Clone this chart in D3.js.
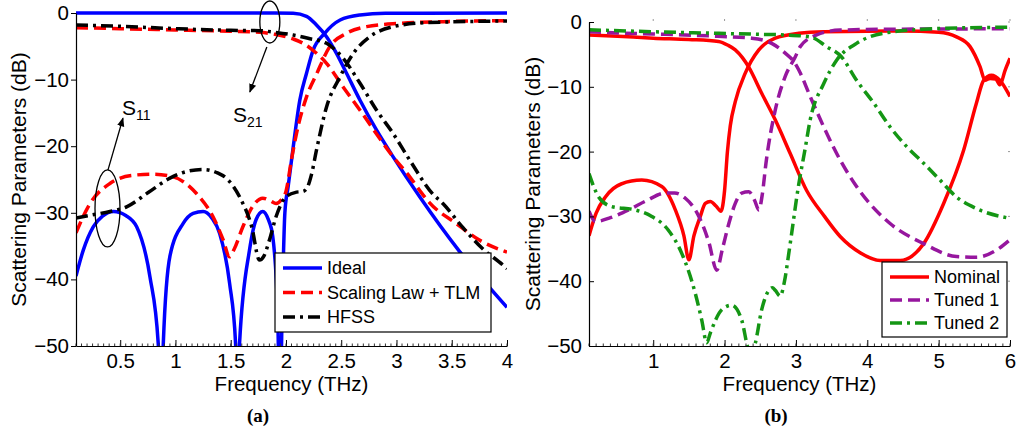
<!DOCTYPE html>
<html>
<head>
<meta charset="utf-8">
<script src="https://cdn.jsdelivr.net/npm/d3@7"></script>
<style>
  body { margin: 0; background: #fff; }
  svg { display: block; }
</style>
</head>
<body>
<script>
// ---- panel (a): [frequency THz, dB] ----
const idealS21 = [[0.1,0],[1.9,0],[2.065,-0.05],[2.186,-0.5],[2.276,-1.8],[2.367,-3.55],[2.457,-6.05],[2.548,-9.05],[2.67,-13.1],[2.82,-17.6],[2.97,-21.6],[3.21,-27.6],[3.57,-35.8],[4.0,-44.2]];
const idealS11 = [[0.1,-39.5],[0.166,-35.6],[0.256,-32.1],[0.34,-30.5],[0.44,-29.8],[0.55,-30.4],[0.649,-32.1],[0.769,-39.6],[0.844,-49.6],[0.866,-62],[0.89,-49.6],[0.95,-36.5],[1.07,-31.6],[1.16,-30.1],[1.25,-29.8],[1.33,-30.8],[1.40,-33.1],[1.49,-40.6],[1.544,-49.6],[1.56,-62],[1.58,-49.6],[1.67,-35.6],[1.73,-31],[1.79,-29.8],[1.84,-31],[1.88,-33.5],[1.925,-45],[1.945,-62],[1.965,-45],[1.99,-30],[2.02,-26],[2.065,-20.2],[2.125,-13.1],[2.186,-9.05],[2.245,-5.6],[2.35,-3.05],[2.49,-1.05],[2.67,-0.3],[2.9,-0.05],[4.0,0]];
const tlmS21 = [[0.1,-2.2],[0.5,-2.35],[1.0,-2.55],[1.5,-2.75],[1.76,-2.9],[1.9,-3.2],[2.065,-3.9],[2.16,-4.6],[2.245,-5.6],[2.367,-7.55],[2.517,-11.1],[2.67,-14.6],[2.97,-21.6],[3.12,-24.6],[3.24,-27.3],[3.3,-28.5],[3.54,-31.6],[3.75,-34.1],[4.0,-35.9]];
const tlmS11 = [[0.1,-33],[0.227,-28.6],[0.407,-25.6],[0.6,-24.4],[0.8,-24.2],[0.98,-24.6],[1.19,-27.1],[1.34,-30.6],[1.43,-34],[1.49,-36.6],[1.53,-35.5],[1.61,-32.1],[1.7,-29],[1.79,-27.8],[1.86,-28.2],[1.91,-28.6],[1.96,-28],[2.0,-26.8],[2.05,-22],[2.095,-18.1],[2.186,-12.6],[2.28,-9.05],[2.396,-5.05],[2.548,-3.05],[2.73,-2.05],[3.03,-1.55],[3.42,-1.3],[4.0,-1.15]];
const hfssS21 = [[0.1,-1.8],[0.5,-2.0],[1.0,-2.35],[1.5,-2.6],[1.76,-2.65],[1.9,-2.9],[2.065,-3.3],[2.2,-3.8],[2.367,-4.55],[2.517,-6.8],[2.67,-10.55],[2.82,-14.6],[2.97,-18.1],[3.12,-22.1],[3.33,-27.2],[3.42,-28.6],[3.6,-32.2],[3.78,-35.4],[3.96,-37.8],[4.0,-38.4]];
const hfssS11 = [[0.1,-30.8],[0.25,-30.3],[0.407,-29.8],[0.558,-29.1],[0.75,-27],[0.95,-24.8],[1.1,-23.8],[1.25,-23.5],[1.38,-24],[1.46,-24.8],[1.58,-27.6],[1.69,-32.1],[1.76,-37.1],[1.8,-36.5],[1.85,-34.1],[1.91,-30.6],[2.0,-27.6],[2.095,-26.9],[2.15,-26.8],[2.186,-26.4],[2.23,-24.3],[2.276,-20.6],[2.367,-14.1],[2.49,-9.56],[2.61,-6.05],[2.76,-3.55],[2.97,-2.05],[3.27,-1.45],[4.0,-1.2]];

// ---- panel (b) ----
const nominalS21 = [[0.1,-2.0],[0.5,-2.2],[1.0,-2.5],[1.5,-2.7],[1.915,-3.0],[2.05,-3.6],[2.15,-4.3],[2.25,-5.5],[2.335,-6.9],[2.52,-11.0],[2.71,-15.1],[2.92,-20.3],[3.15,-26],[3.4,-30],[3.62,-33.1],[3.9,-35.6],[4.18,-36.8],[4.46,-36.8],[4.79,-34.2],[5.07,-28],[5.35,-19.8],[5.53,-12.5],[5.63,-9.0],[5.74,-8.2],[5.86,-9.0],[6.0,-11.5]];
const nominalS11 = [[0.1,-33],[0.2,-29.5],[0.33,-27],[0.55,-25],[0.84,-24.4],[1.12,-25.4],[1.31,-29],[1.43,-33],[1.5,-36.7],[1.57,-33],[1.66,-30],[1.73,-28],[1.8,-27.7],[1.88,-28.4],[1.95,-29.2],[2.0,-26],[2.04,-20],[2.08,-16],[2.15,-12.3],[2.29,-7.9],[2.48,-4.3],[2.71,-2.5],[3.04,-1.75],[3.39,-1.5],[4.5,-1.4],[5.0,-1.6],[5.25,-2.3],[5.44,-3.8],[5.58,-6.9],[5.65,-9.0],[5.72,-8.7],[5.8,-8.8],[5.86,-9.7],[5.93,-7.5],[6.0,-5.6]];
const tuned1S21 = [[0.1,-1.5],[0.5,-1.7],[1.0,-1.85],[1.45,-2.0],[1.9,-2.2],[2.38,-2.5],[2.66,-3.3],[2.85,-4.8],[2.97,-6.1],[3.04,-7.4],[3.2,-11.5],[3.39,-16.2],[3.62,-21.3],[3.85,-25.4],[4.32,-31.1],[4.79,-34.2],[5.25,-36.2],[5.53,-36.3],[5.81,-35.2],[6.0,-33.6]];
const tuned1S11 = [[0.1,-29.2],[0.19,-30.8],[0.4,-30.2],[0.655,-29],[0.9,-27.6],[1.17,-26.4],[1.3,-26.4],[1.45,-27.2],[1.64,-30],[1.78,-34],[1.89,-38.3],[1.97,-35],[2.06,-31.1],[2.15,-28],[2.24,-26.4],[2.34,-26.2],[2.42,-27.5],[2.48,-29],[2.53,-26.5],[2.58,-21.8],[2.71,-13.6],[2.85,-8.4],[2.99,-5.4],[3.06,-3.8],[3.29,-2.0],[3.62,-1.25],[4.5,-1.1],[6.0,-1.05]];
const tuned2S21 = [[0.1,-1.2],[1.0,-1.5],[1.915,-1.75],[2.5,-1.9],[2.85,-2.0],[3.2,-2.3],[3.43,-3.8],[3.64,-5.4],[3.85,-9.0],[4.09,-12.5],[4.32,-16.2],[4.55,-19.2],[4.79,-21.8],[5.02,-24.4],[5.25,-27],[5.53,-28.8],[6.0,-30.3]];
const tuned2S11 = [[0.1,-23.4],[0.17,-25.5],[0.235,-27],[0.42,-28.5],[0.75,-29],[0.98,-30],[1.21,-32.1],[1.4,-35.7],[1.59,-41.9],[1.68,-46],[1.75,-49.5],[1.8,-48],[1.96,-44.4],[2.1,-43.7],[2.24,-46],[2.32,-50],[2.37,-51.5],[2.43,-49.6],[2.52,-44.4],[2.62,-41.4],[2.67,-41],[2.71,-41.4],[2.78,-42.3],[2.84,-40],[2.9,-35.7],[3.04,-25],[3.13,-19.5],[3.2,-15.1],[3.39,-9.5],[3.57,-5.9],[3.85,-3.3],[4.22,-1.75],[5.02,-1.0],[6.0,-0.8]];

const xTicksA = [0.5, 1, 1.5, 2, 2.5, 3, 3.5, 4];
const xTicksB = [1, 2, 3, 4, 5, 6];
const yTicks = [-50, -40, -30, -20, -10, 0];
const legendA = ['Ideal', 'Scaling Law + TLM', 'HFSS'];
const legendB = ['Nominal', 'Tuned 1', 'Tuned 2'];

const width = 1016;
const height = 436;
const font = '"Liberation Sans", Arial, Helvetica, sans-serif';

const dash = '12,6';
const dashDot = '12,5,3,5';

const svg = d3.select('body')
  .append('svg')
  .attr('width', width)
  .attr('height', height)
  .style('font-family', font);

svg.append('defs').append('marker')
  .attr('id', 'arrow')
  .attr('viewBox', '0 0 10 10')
  .attr('refX', 9).attr('refY', 5)
  .attr('markerWidth', 9).attr('markerHeight', 9)
  .attr('markerUnits', 'userSpaceOnUse')
  .attr('orient', 'auto')
  .append('path')
    .attr('d', 'M0,1 L10,5 L0,9 Z')
    .attr('fill', 'black');

const fmtY = d => d < 0 ? '\u2212' + Math.abs(d) : String(d);

function panel(o) {
  const x = d3.scaleLinear().domain(o.xDomain).range([o.left, o.right]);
  const y = d3.scaleLinear().domain([-50, 0]).range([o.bottom, o.top]);
  const g = svg.append('g');

  g.append('clipPath').attr('id', o.id)
    .append('rect')
      .attr('x', o.left).attr('y', 0)
      .attr('width', o.right - o.left).attr('height', o.bottom);

  // faint box ticks on top / right (panel b)
  if (o.boxTicks) {
    g.selectAll('.tt').data(o.xTicks).join('line')
      .attr('x1', d => x(d)).attr('x2', d => x(d))
      .attr('y1', o.top - 3).attr('y2', o.top - 1)
      .attr('stroke', '#999');
    g.selectAll('.rt').data(yTicks.slice(1)).join('line')
      .attr('x1', o.right - 2).attr('x2', o.right)
      .attr('y1', d => y(d)).attr('y2', d => y(d))
      .attr('stroke', '#999');
  }

  const line = d3.line()
    .x(d => x(d[0]))
    .y(d => y(d[1]))
    .curve(d3.curveMonotoneX);

  const curves = g.append('g').attr('clip-path', `url(#${o.id})`);
  o.series.forEach(s => {
    s.data.forEach(arr => {
      curves.append('path')
        .attr('d', line(arr))
        .attr('fill', 'none')
        .attr('stroke', s.color)
        .attr('stroke-width', 3.5)
        .attr('stroke-dasharray', s.dash || null)
        .attr('stroke-linejoin', 'round');
    });
  });

  // axes
  const xAxis = g.append('g')
    .attr('transform', `translate(0,${o.bottom})`)
    .call(d3.axisBottom(x).tickValues(o.xTicks).tickSizeInner(-6).tickSizeOuter(0)
      .tickPadding(8).tickFormat(d => String(d)));
  xAxis.selectAll('.tick text').attr('dy', '0.68em');
  const minor = d3.range(o.xDomain[0], o.xDomain[1] + 1e-9, o.minorStep);
  xAxis.selectAll('.minor').data(minor).join('line')
    .attr('class', 'minor')
    .attr('x1', d => x(d)).attr('x2', d => x(d))
    .attr('y1', 0).attr('y2', -2.5)
    .attr('stroke', '#333');

  const yAxis = g.append('g')
    .attr('transform', `translate(${o.left},0)`)
    .call(d3.axisLeft(y).tickValues(yTicks).tickSizeInner(o.yTickSize).tickSizeOuter(0)
      .tickPadding(o.yPad).tickFormat(fmtY));

  [xAxis, yAxis].forEach(a => {
    a.selectAll('text').attr('font-size', 20.5).attr('font-family', font).attr('fill', '#000');
    a.selectAll('path.domain').attr('stroke', '#000').attr('stroke-width', 1.2);
    a.selectAll('.tick line').attr('stroke', '#000');
  });

  g.append('text')
    .attr('x', (o.left + o.right) / 2)
    .attr('y', 391)
    .attr('text-anchor', 'middle')
    .attr('font-size', 20.5)
    .text('Frequency (THz)');

  g.append('text')
    .attr('transform', `translate(${o.yLabelX},${(o.top + o.bottom) / 2}) rotate(-90)`)
    .attr('text-anchor', 'middle')
    .attr('font-size', 21)
    .text('Scattering Parameters (dB)');

  g.append('text')
    .attr('x', o.captionX)
    .attr('y', 422)
    .attr('text-anchor', 'middle')
    .attr('font-family', '"Liberation Serif", "Times New Roman", serif')
    .attr('font-weight', 'bold')
    .attr('font-size', 19)
    .text(o.caption);

  // legend
  const L = o.legend;
  const lg = g.append('g');
  lg.append('rect')
    .attr('x', L.x).attr('y', L.y).attr('width', L.w).attr('height', L.h)
    .attr('fill', 'white').attr('stroke', 'black').attr('stroke-width', 1.2);
  o.series.forEach((s, i) => {
    const cy = L.y + L.row0 + i * L.step;
    lg.append('line')
      .attr('x1', L.x + 8).attr('x2', L.x + 47)
      .attr('y1', cy).attr('y2', cy)
      .attr('stroke', s.color).attr('stroke-width', 3.5)
      .attr('stroke-dasharray', s.dash || null);
    lg.append('text')
      .attr('x', L.x + 52).attr('y', cy).attr('dy', '0.36em')
      .attr('font-size', 18)
      .text(s.name);
  });

  return { x, y, g };
}

const A = panel({
  id: 'clipA', xDomain: [0.1, 4], left: 76, right: 507, top: 13, bottom: 346,
  xTicks: xTicksA, minorStep: 0.05, yTickSize: 5, yPad: 2, yLabelX: 26,
  caption: '(a)', captionX: 258,
  legend: { x: 275, y: 253, w: 216, h: 79, row0: 15, step: 24.5 },
  series: [
    { name: legendA[0], color: '#0000ff', data: [idealS11, idealS21] },
    { name: legendA[1], color: '#ff0000', dash: dash, data: [tlmS11, tlmS21] },
    { name: legendA[2], color: '#000000', dash: dashDot, data: [hfssS11, hfssS21] },
  ],
});

panel({
  id: 'clipB', xDomain: [0.1, 6], left: 589, right: 1010, top: 22, bottom: 346,
  xTicks: xTicksB, minorStep: 0.1, yTickSize: -5, yPad: 7, yLabelX: 540,
  caption: '(b)', captionX: 776, boxTicks: true,
  legend: { x: 882, y: 262, w: 125, h: 75, row0: 15, step: 23 },
  series: [
    { name: legendB[0], color: '#ff0000', data: [nominalS11, nominalS21] },
    { name: legendB[1], color: '#96169e', dash: dash, data: [tuned1S11, tuned1S21] },
    { name: legendB[2], color: '#149614', dash: dashDot, data: [tuned2S11, tuned2S21] },
  ],
});

// S-parameter call-outs on panel (a), placed in data units
const ann = A.g.append('g').attr('fill', 'none').attr('stroke', 'black').attr('stroke-width', 1.3);
const ax = A.x, ay = A.y;
ann.append('ellipse').attr('cx', ax(1.854)).attr('cy', ay(-1.35)).attr('rx', 10).attr('ry', 21);
ann.append('line')
  .attr('x1', ax(1.827)).attr('y1', ay(-5.1)).attr('x2', ax(1.673)).attr('y2', ay(-11.86))
  .attr('marker-end', 'url(#arrow)');
ann.append('ellipse').attr('cx', ax(0.385)).attr('cy', ay(-29.35)).attr('rx', 12.5).attr('ry', 38.5);
ann.append('line')
  .attr('x1', ax(0.389)).attr('y1', ay(-23.6)).attr('x2', ax(0.525)).attr('y2', ay(-15.8))
  .attr('marker-end', 'url(#arrow)');

function sLabel(f, db, sub) {
  const t = A.g.append('text')
    .attr('x', ax(f)).attr('y', ay(db))
    .attr('font-size', 21);
  t.append('tspan').text('S');
  t.append('tspan').attr('dy', 5).attr('font-size', 14).text(sub);
}
sLabel(1.52, -16.4, '21');
sLabel(0.516, -15.3, '11');
</script>
</body>
</html>
